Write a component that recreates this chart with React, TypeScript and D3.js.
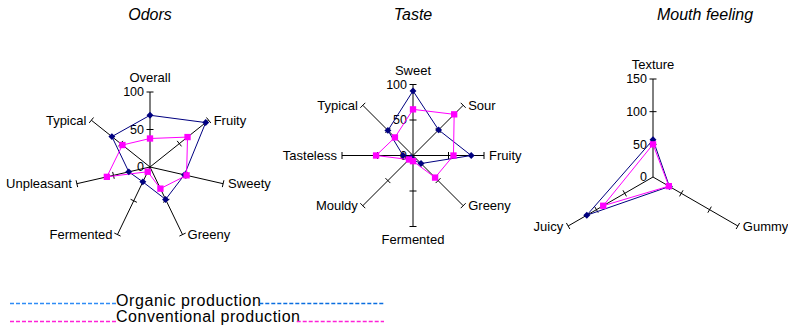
import { useEffect, useRef } from "react";
import * as d3 from "d3";

// Odors panel
const odorAxes = ["Overall", "Fruity", "Sweety", "Greeny", "Fermented", "Unpleasant", "Typical"];
const odorOrganic = [69, 95, 47, 48, 22, 29, 65];
const odorConventional = [38, 64, 50, 32, 7, 59, 47];
const odorTicks = [0, 50, 100];

// Taste panel
const tasteAxes = ["Sweet", "Sour", "Fruity", "Greeny", "Fermented", "Mouldy", "Tasteless", "Typical"];
const tasteOrganic = [91, 51, 82, 16, 6, 4, 14, 50];
const tasteConventional = [65, 82, 57, 44, 8, 8, 52, 36];
const tasteTicks = [0, 50, 100];

// Mouth feeling panel
const mouthAxes = ["Texture", "Gummy", "Juicy"];
const mouthOrganic = [57, 29, 117];
const mouthConventional = [50, 28, 88];
const mouthTicks = [0, 50, 100, 150];

const seriesNames = ["Organic production", "Conventional production"];

const NAVY = "#000080";
const MAGENTA = "#ff00ff";
const FONT = "'Liberation Sans', Arial, sans-serif";

const drawRadar = (svg, cfg) => {
  const { title, titleX, axes, organic, conventional, ticks, cx, cy, radius } = cfg;
  const max = d3.max(ticks);

  // title
  svg
    .append("text")
    .attr("x", titleX)
    .attr("y", 20)
    .attr("text-anchor", "middle")
    .attr("font-size", 16)
    .attr("font-style", "italic")
    .text(title);

  const g = svg.append("g").attr("transform", `translate(${cx},${cy})`);

  const r = d3.scaleLinear().domain([0, max]).range([0, radius]);
  const angle = d3.scaleLinear().domain([0, axes.length]).range([0, 2 * Math.PI]);
  const pt = (i, v) => [Math.sin(angle(i)) * r(v), -Math.cos(angle(i)) * r(v)];

  // spokes
  g.selectAll(".spoke")
    .data(axes)
    .enter()
    .append("line")
    .attr("x1", 0)
    .attr("y1", 0)
    .attr("x2", (d, i) => pt(i, max)[0])
    .attr("y2", (d, i) => pt(i, max)[1])
    .attr("stroke", "#000")
    .attr("stroke-width", 1);

  // cross ticks on every spoke
  axes.forEach((a, i) => {
    const px = Math.cos(angle(i));
    const py = Math.sin(angle(i));
    ticks
      .filter((t) => t > 0)
      .forEach((t) => {
        const [x, y] = pt(i, t);
        g.append("line")
          .attr("x1", x - px * 3.5)
          .attr("y1", y - py * 3.5)
          .attr("x2", x + px * 3.5)
          .attr("y2", y + py * 3.5)
          .attr("stroke", "#000")
          .attr("stroke-width", 1);
      });
  });

  // tick labels on first spoke
  g.selectAll(".tickLabel")
    .data(ticks)
    .enter()
    .append("text")
    .attr("x", -6)
    .attr("y", (d) => -r(d))
    .attr("dy", "0.35em")
    .attr("text-anchor", "end")
    .attr("font-size", 12.5)
    .text((d) => d);

  // axis labels
  axes.forEach((a, i) => {
    const [x, y] = pt(i, max);
    const sx = Math.sin(angle(i));
    const sy = -Math.cos(angle(i));
    const t = g.append("text").attr("font-size", 13).text(a);
    if (Math.abs(sx) < 0.01) {
      t.attr("x", x)
        .attr("y", sy < 0 ? y - 10 : y + 17)
        .attr("text-anchor", "middle");
    } else {
      t.attr("x", x + (sx > 0 ? 5 : -5))
        .attr("y", y)
        .attr("dy", "0.35em")
        .attr("text-anchor", sx > 0 ? "start" : "end");
    }
  });

  // series
  const line = d3
    .lineRadial()
    .angle((d, i) => angle(i))
    .radius((d) => r(d))
    .curve(d3.curveLinearClosed);

  const series = [
    { values: organic, color: NAVY, symbol: d3.symbol(d3.symbolSquare, 24), rot: 45 },
    { values: conventional, color: MAGENTA, symbol: d3.symbol(d3.symbolSquare, 40), rot: 0 },
  ];

  series.forEach((s) => {
    g.append("path")
      .datum(s.values)
      .attr("fill", "none")
      .attr("stroke", s.color)
      .attr("stroke-width", 1)
      .attr("d", line);
  });

  series.forEach((s) => {
    g.selectAll(null)
      .data(s.values)
      .enter()
      .append("path")
      .attr("d", s.symbol())
      .attr("fill", s.color)
      .attr("transform", (d, i) => {
        const [x, y] = pt(i, d);
        return `translate(${x},${y}) rotate(${s.rot})`;
      });
  });
};

const App = () => {
  const svgRef = useRef();

  useEffect(() => {
    const svg = d3.select(svgRef.current);
    svg.selectAll("*").remove();

    drawRadar(svg, {
      title: "Odors",
      titleX: 150,
      axes: odorAxes,
      organic: odorOrganic,
      conventional: odorConventional,
      ticks: odorTicks,
      cx: 150,
      cy: 167,
      radius: 75,
    });

    drawRadar(svg, {
      title: "Taste",
      titleX: 413,
      axes: tasteAxes,
      organic: tasteOrganic,
      conventional: tasteConventional,
      ticks: tasteTicks,
      cx: 413,
      cy: 155.5,
      radius: 71,
    });

    drawRadar(svg, {
      title: "Mouth feeling",
      titleX: 705,
      axes: mouthAxes,
      organic: mouthOrganic,
      conventional: mouthConventional,
      ticks: mouthTicks,
      cx: 653,
      cy: 177,
      radius: 98,
    });

    // legend: dashed rules either side of each series name
    const legend = [
      { name: seriesNames[0], y: 306, lineY: 303.5, left: "#2f8cf5", right: "#0a6ee0" },
      { name: seriesNames[1], y: 321.5, lineY: 321.5, left: "#ff22d8", right: "#ff22d8" },
    ];

    legend.forEach((l) => {
      const text = svg
        .append("text")
        .attr("x", 116)
        .attr("y", l.y)
        .attr("font-size", 16)
        .attr("textLength", l.name === seriesNames[0] ? 145 : 184)
        .text(l.name);
      const w = text.node().getComputedTextLength();
      [
        [10, 116, l.left],
        [116 + w + 8, 384, l.right],
      ].forEach(([x1, x2, c]) => {
        svg
          .append("line")
          .attr("x1", x1)
          .attr("x2", x2)
          .attr("y1", l.lineY)
          .attr("y2", l.lineY)
          .attr("stroke", c)
          .attr("stroke-width", 1.4)
          .attr("stroke-dasharray", "4,2");
      });
    });
  }, []);

  return (
    <svg
      ref={svgRef}
      width={788}
      height={331}
      style={{ position: "absolute", left: 0, top: 0, fontFamily: FONT, background: "#fff" }}
    ></svg>
  );
};

export default App;
